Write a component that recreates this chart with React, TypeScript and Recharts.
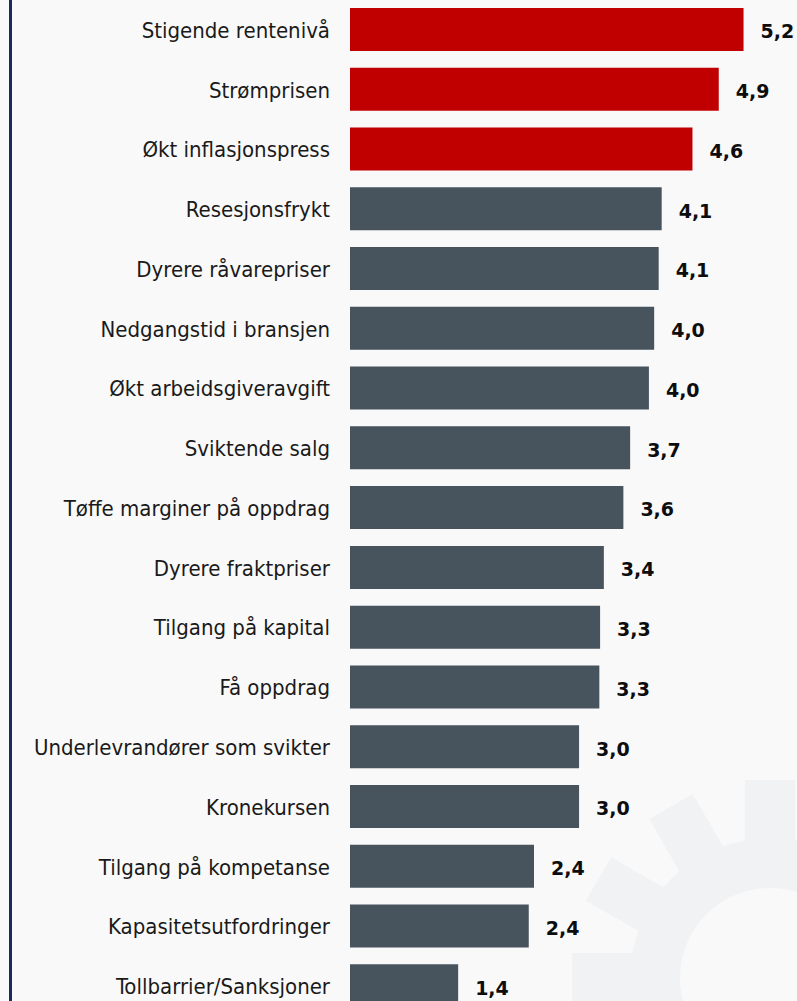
// Horizontal bar chart: Norwegian business worries, top three highlighted in red

import React from 'react';
import { BarChart, Bar, XAxis, YAxis, Cell, LabelList } from 'recharts';

const categories = [
  'Stigende rentenivå',
  'Strømprisen',
  'Økt inflasjonspress',
  'Resesjonsfrykt',
  'Dyrere råvarepriser',
  'Nedgangstid i bransjen',
  'Økt arbeidsgiveravgift',
  'Sviktende salg',
  'Tøffe marginer på oppdrag',
  'Dyrere fraktpriser',
  'Tilgang på kapital',
  'Få oppdrag',
  'Underlevrandører som svikter',
  'Kronekursen',
  'Tilgang på kompetanse',
  'Kapasitetsutfordringer',
  'Tollbarrier/Sanksjoner',
];

// bar lengths
const values = [5.24, 4.91, 4.56, 4.15, 4.11, 4.05, 3.98, 3.73, 3.64, 3.38, 3.33, 3.32, 3.05, 3.05, 2.45, 2.38, 1.44];

// printed value labels
const valueLabels = ['5,2', '4,9', '4,6', '4,1', '4,1', '4,0', '4,0', '3,7', '3,6', '3,4', '3,3', '3,3', '3,0', '3,0', '2,4', '2,4', '1,4'];

const HIGHLIGHT_COUNT = 3;

const RED = '#c00000';
const SLATE = '#47535d';
const BG = '#f9f9f9';
const GEAR = '#f1f2f4';

const data = categories.map((name, i) => ({ name, value: values[i], label: valueLabels[i] }));

const CategoryTick = (props: any) => {
  const { x, y, payload } = props;
  return (
    <text
      x={x}
      y={y}
      dy="0.36em"
      textAnchor="end"
      fill="#1a1a1a"
      style={{ fontFamily: "'DejaVu Sans Condensed', 'DejaVu Sans', sans-serif", fontStretch: 'condensed', fontSize: 22 }}
    >
      {payload.value}
    </text>
  );
};

const ValueLabel = (props: any) => {
  const { x, y, width, height, value } = props;
  return (
    <text
      x={x + width + 17}
      y={y + height / 2 + 2}
      dy="0.36em"
      textAnchor="start"
      fill="#0d0d0d"
      style={{ fontFamily: "'DejaVu Sans', sans-serif", fontWeight: 'bold', fontSize: 19 }}
    >
      {value}
    </text>
  );
};

// faint gear watermark in the lower right corner
const Gear = () => {
  const cx = 770;
  const cy = 978;
  const teeth = Array.from({ length: 12 }, (_, k) => k * 30);
  return (
    <svg width={797} height={1001} style={{ position: 'absolute', left: 0, top: 0 }}>
      <circle cx={cx} cy={cy} r={140} fill={GEAR} />
      {teeth.map((a) => (
        <rect
          key={a}
          x={cx - 25}
          y={cy - 198}
          width={50}
          height={70}
          fill={GEAR}
          transform={`rotate(${a} ${cx} ${cy})`}
        />
      ))}
      <circle cx={cx} cy={cy} r={90} fill={BG} />
    </svg>
  );
};

export default function App() {
  return (
    <div
      style={{
        position: 'absolute',
        left: 0,
        top: 0,
        width: 797,
        height: 1001,
        overflow: 'hidden',
        background: BG,
      }}
    >
      <Gear />
      <div style={{ position: 'absolute', left: 9, top: 0, width: 3, height: 1001, background: '#1c2b5e' }} />
      <div style={{ position: 'absolute', left: 0, top: 0 }}>
        <BarChart
          width={797}
          height={1016}
          data={data}
          layout="vertical"
          margin={{ top: 0, right: 11.4, bottom: 0, left: 0 }}
        >
          <XAxis type="number" domain={[0, 5.8]} hide />
          <YAxis
            type="category"
            dataKey="name"
            width={350}
            axisLine={false}
            tickLine={false}
            tickSize={0}
            tickMargin={20}
            interval={0}
            tick={<CategoryTick />}
          />
          <Bar dataKey="value" barSize={43} isAnimationActive={false}>
            {data.map((d, i) => (
              <Cell key={d.name} fill={i < HIGHLIGHT_COUNT ? RED : SLATE} />
            ))}
            <LabelList dataKey="label" content={<ValueLabel />} />
          </Bar>
        </BarChart>
      </div>
    </div>
  );
}
